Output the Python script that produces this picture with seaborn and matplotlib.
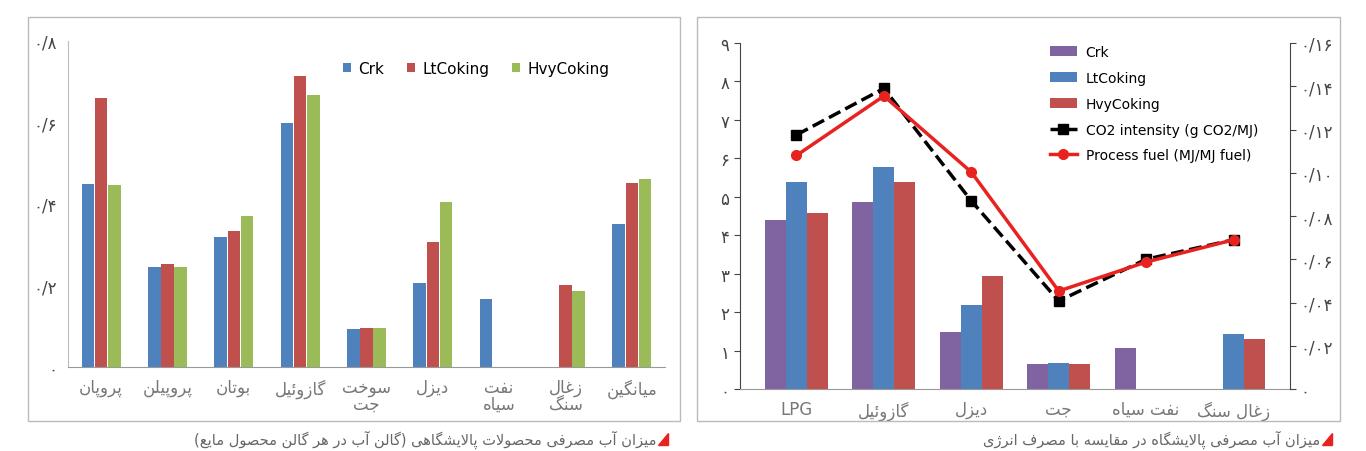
import unicodedata
import numpy as np
import pandas as pd
import matplotlib
matplotlib.use("Agg")
import matplotlib.pyplot as plt
import seaborn as sns
from matplotlib.patches import Rectangle, Polygon

# ---------------- data ----------------
left_cats = ["پروپان", "پروپیلن", "بوتان", "گازوئیل", "سوخت\nجت", "دیزل", "نفت\nسیاه", "زغال\nسنگ", "میانگین"]
left_crk = [0.45, 0.245, 0.319, 0.60, 0.093, 0.206, 0.167, np.nan, 0.351]
left_lt = [0.66, 0.253, 0.334, 0.714, 0.096, 0.307, np.nan, 0.201, 0.452]
left_hvy = [0.447, 0.245, 0.37, 0.667, 0.096, 0.405, np.nan, 0.186, 0.461]
left_ticks = [0, 0.2, 0.4, 0.6, 0.8]

right_cats = ["LPG", "گازوئیل", "دیزل", "جت", "نفت سیاه", "زغال سنگ"]
right_crk = [4.40, 4.87, 1.48, 0.65, 1.07, np.nan]
right_lt = [5.39, 5.78, 2.19, 0.68, np.nan, 1.43]
right_hvy = [4.58, 5.39, 2.94, 0.65, np.nan, 1.30]
co2 = [0.1175, 0.139, 0.087, 0.0407, 0.060, 0.069]
proc_fuel = [0.108, 0.1355, 0.1003, 0.0453, 0.0587, 0.069]
right_ticks_l = list(range(10))
right_ticks_r = [0, 0.02, 0.04, 0.06, 0.08, 0.10, 0.12, 0.14, 0.16]

cap_left = "میزان آب مصرفی محصولات پالایشگاهی (گالن آب در هر گالن محصول مایع)"
cap_right = "میزان آب مصرفی پالایشگاه در مقایسه با مصرف انرژی"

# ------------- persian shaping -------------
def _form(c, f):
    try:
        return unicodedata.lookup(unicodedata.name(c) + " " + f + " FORM")
    except Exception:
        return None

def _is_ar(c):
    return "\u0620" <= c <= "\u06FF" and unicodedata.category(c) == "Lo"

def _dual(c):
    return _is_ar(c) and _form(c, "INITIAL") is not None

def shape_line(s):
    if not any(_is_ar(c) for c in s):
        return s
    chars = list(s)
    out = []
    i = 0
    while i < len(chars):
        c = chars[i]
        if not _is_ar(c):
            out.append({"(": ")", ")": "("}.get(c, c))
            i += 1
            continue
        prev_j = i > 0 and _dual(chars[i - 1])
        if c == "\u0644" and i + 1 < len(chars) and chars[i + 1] in "\u0627\u0622":
            out.append("\uFEFC" if prev_j else "\uFEFB")
            i += 2
            continue
        next_j = i + 1 < len(chars) and _is_ar(chars[i + 1]) and _dual(c)
        if prev_j and next_j:
            f = "MEDIAL"
        elif prev_j:
            f = "FINAL"
        elif next_j:
            f = "INITIAL"
        else:
            f = "ISOLATED"
        out.append(_form(c, f) or c)
        i += 1
    return "".join(reversed(out))

def fa(s):
    return "\n".join(shape_line(l) for l in s.split("\n"))

def fa_num(v):
    s = ("%g" % v).replace(".", "/")
    return s.translate(str.maketrans("0123456789", "۰۱۲۳۴۵۶۷۸۹"))

def fa_num2(v):
    s = "0" if v == 0 else ("%.2f" % v).replace(".", "/")
    return s.translate(str.maketrans("0123456789", "۰۱۲۳۴۵۶۷۸۹"))

plt.rcParams["font.family"] = "DejaVu Sans"
BLUE, RED, GREEN, PURPLE = "#4f81bd", "#c0504d", "#9bbb59", "#8064a2"
GRAYTXT = "#777777"

fig = plt.figure(figsize=(13.66, 4.52), dpi=100)
W, H = 1366, 452
def rect(x0, y0, x1, y1):
    return [x0 / W, 1 - y1 / H, (x1 - x0) / W, (y1 - y0) / H]

# frames
for (x0, x1) in [(28, 680), (697, 1340)]:
    fig.patches.append(Rectangle((x0 / W, 1 - 422 / H), (x1 - x0) / W, 404 / H,
                                 transform=fig.transFigure, fill=False, ec="#bbbbbb", lw=1))

# ---------------- left chart ----------------
axL = fig.add_axes(rect(68, 42, 665, 368))
dfL = pd.DataFrame({"cat": left_cats * 3,
                    "val": left_crk + left_lt + left_hvy,
                    "s": ["Crk"] * 9 + ["LtCoking"] * 9 + ["HvyCoking"] * 9})
sns.barplot(data=dfL, x="cat", y="val", hue="s", palette=[BLUE, RED, GREEN],
            ax=axL, width=0.6, gap=0.05, saturation=1)
axL.set_ylim(0, 0.8)
axL.set_yticks(left_ticks)
axL.set_yticklabels([fa_num(v) for v in left_ticks], fontsize=12, color="#444444")
axL.set_xticks(range(len(left_cats)))
axL.set_xticklabels([fa(c) for c in left_cats], fontsize=12, color=GRAYTXT, linespacing=0.9)
axL.set_xlabel(""); axL.set_ylabel("")
for sp in ["top", "right"]:
    axL.spines[sp].set_visible(False)
axL.spines["left"].set_color("#bbbbbb")
axL.spines["bottom"].set_color("#999999")
axL.tick_params(length=0, pad=8)
axL.legend(loc="upper right", bbox_to_anchor=(0.93, 0.98), ncol=3, frameon=False,
           fontsize=11, handlelength=0.5, handleheight=0.5, columnspacing=1.5, handletextpad=0.5)

# ---------------- right chart ----------------
axR = fig.add_axes(rect(740, 44, 1290, 390))
dfR = pd.DataFrame({"cat": right_cats * 3,
                    "val": right_crk + right_lt + right_hvy,
                    "s": ["Crk"] * 6 + ["LtCoking"] * 6 + ["HvyCoking"] * 6})
sns.barplot(data=dfR, x="cat", y="val", hue="s", palette=[PURPLE, BLUE, RED],
            ax=axR, width=0.72, saturation=1)
axR.set_ylim(0, 9)
axR.set_yticks(right_ticks_l)
axR.set_yticklabels([fa_num(v) for v in right_ticks_l], fontsize=12, color="#444444")
axR.set_xticks(range(len(right_cats)))
axR.set_xticklabels([fa(c) for c in right_cats], fontsize=12, color=GRAYTXT)
axR.set_xlabel(""); axR.set_ylabel("")
axR.tick_params(axis="y", direction="out", length=4, color="#444444")
axR.tick_params(axis="x", length=0, pad=8)
for sp in ["top", "right"]:
    axR.spines[sp].set_visible(False)
axR.spines["left"].set_color("#444444")
axR.spines["bottom"].set_color("#999999")

ax2 = axR.twinx()
xs = np.arange(len(right_cats))
ax2.plot(xs, co2, color="black", ls="--", lw=2.5, marker="s", ms=7,
         label="CO2 intensity (g CO2/MJ)")
ax2.plot(xs, proc_fuel, color="#e8231f", lw=2.5, marker="o", ms=7,
         label="Process fuel (MJ/MJ fuel)")
ax2.set_ylim(0, 0.16)
ax2.set_yticks(right_ticks_r)
ax2.set_yticklabels([fa_num2(v) for v in right_ticks_r], fontsize=12, color="#444444")
ax2.tick_params(axis="y", direction="out", length=4, color="#444444")
for sp in ["top", "left", "bottom"]:
    ax2.spines[sp].set_visible(False)
ax2.spines["right"].set_color("#444444")
h1, l1 = axR.get_legend_handles_labels()
h2, l2 = ax2.get_legend_handles_labels()
axR.legend(h1 + h2, l1 + l2, loc="upper left", bbox_to_anchor=(0.54, 1.03), frameon=False,
           fontsize=10, handlelength=2.0, labelspacing=0.85, handletextpad=0.6)

# ---------------- captions ----------------
for x_right, txt in [(668, cap_left), (1332, cap_right)]:
    fig.text((x_right - 12) / W, 1 - 440 / H, fa(txt), ha="right", va="center",
             fontsize=10.5, color="#666666")
    fig.patches.append(Polygon([((x_right - 10) / W, 1 - 446 / H), (x_right / W, 1 - 446 / H),
                                (x_right / W, 1 - 434 / H)], closed=True,
                               transform=fig.transFigure, color="#e8231f"))

fig.savefig("out.png", dpi=100)
